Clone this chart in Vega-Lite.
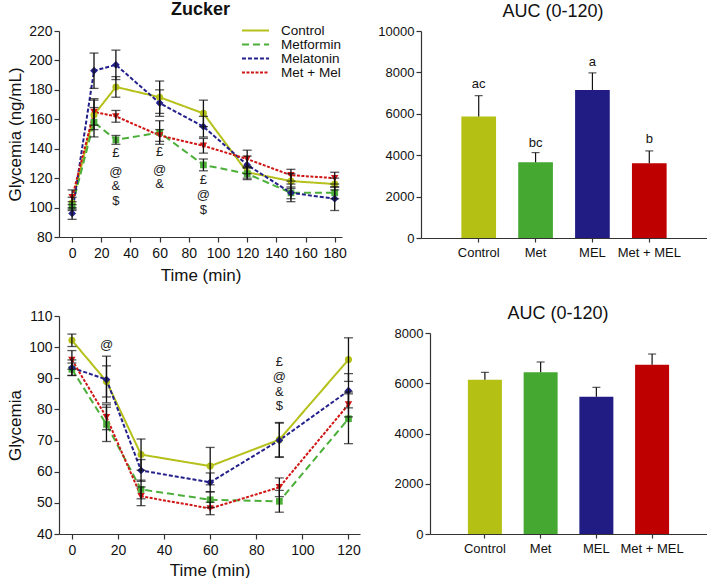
{
  "$schema": "https://vega.github.io/schema/vega-lite/v6.json",
  "background": "white",
  "padding": {"left": 6, "top": 1, "right": 0, "bottom": 0},
  "config": {
    "font": "Liberation Sans",
    "view": {"stroke": null},
    "axis": {"grid": false, "labelOverlap": false, "domainColor": "#333", "tickColor": "#333", "labelColor": "#111", "titleColor": "#111", "labelFontSize": 14, "titleFontSize": 17, "titleFontWeight": "normal", "labelFont": "Liberation Sans", "titleFont": "Liberation Sans", "tickSize": 5, "domainWidth": 1.2, "tickWidth": 1.2},
    "title": {"font": "Liberation Sans", "fontSize": 18, "color": "#111", "fontWeight": "normal", "offset": 0},
    "legend": {"labelFont": "Liberation Sans"}
  },
  "datasets": {
    "zt": [
      {"t": 0, "group": "Control", "y": 103, "lo": 99, "hi": 107},
      {"t": 15, "group": "Control", "y": 163, "lo": 153, "hi": 173},
      {"t": 30, "group": "Control", "y": 182, "lo": 175, "hi": 189},
      {"t": 60, "group": "Control", "y": 175, "lo": 164, "hi": 186},
      {"t": 90, "group": "Control", "y": 164, "lo": 155, "hi": 173},
      {"t": 120, "group": "Control", "y": 124, "lo": 120, "hi": 128},
      {"t": 150, "group": "Control", "y": 118, "lo": 113, "hi": 123},
      {"t": 180, "group": "Control", "y": 116, "lo": 112, "hi": 120},
      {"t": 0, "group": "Metformin", "y": 101, "lo": 98, "hi": 104},
      {"t": 15, "group": "Metformin", "y": 158, "lo": 148, "hi": 168},
      {"t": 30, "group": "Metformin", "y": 146, "lo": 143, "hi": 149},
      {"t": 60, "group": "Metformin", "y": 151, "lo": 143, "hi": 159},
      {"t": 90, "group": "Metformin", "y": 129, "lo": 125, "hi": 133},
      {"t": 120, "group": "Metformin", "y": 123, "lo": 119, "hi": 127},
      {"t": 150, "group": "Metformin", "y": 110, "lo": 106, "hi": 114},
      {"t": 180, "group": "Metformin", "y": 110, "lo": 106, "hi": 114},
      {"t": 0, "group": "Melatonin", "y": 96, "lo": 92, "hi": 100},
      {"t": 15, "group": "Melatonin", "y": 193, "lo": 181, "hi": 205},
      {"t": 30, "group": "Melatonin", "y": 197, "lo": 187, "hi": 207},
      {"t": 60, "group": "Melatonin", "y": 171, "lo": 162, "hi": 180},
      {"t": 90, "group": "Melatonin", "y": 155, "lo": 148, "hi": 162},
      {"t": 120, "group": "Melatonin", "y": 129, "lo": 123, "hi": 135},
      {"t": 150, "group": "Melatonin", "y": 110, "lo": 104, "hi": 116},
      {"t": 180, "group": "Melatonin", "y": 106, "lo": 98, "hi": 114},
      {"t": 0, "group": "Met + Mel", "y": 107, "lo": 102, "hi": 112},
      {"t": 15, "group": "Met + Mel", "y": 165, "lo": 156, "hi": 174},
      {"t": 30, "group": "Met + Mel", "y": 162, "lo": 158, "hi": 166},
      {"t": 60, "group": "Met + Mel", "y": 149, "lo": 145, "hi": 153},
      {"t": 90, "group": "Met + Mel", "y": 142, "lo": 137, "hi": 147},
      {"t": 120, "group": "Met + Mel", "y": 133, "lo": 127, "hi": 139},
      {"t": 150, "group": "Met + Mel", "y": 122, "lo": 118, "hi": 126},
      {"t": 180, "group": "Met + Mel", "y": 120, "lo": 116, "hi": 124}
    ],
    "ztann": [
      {"t": 30, "y": 137, "label": "£"},
      {"t": 30, "y": 124.5, "label": "@"},
      {"t": 30, "y": 114.8, "label": "&"},
      {"t": 30, "y": 104.8, "label": "$"},
      {"t": 60, "y": 138, "label": "£"},
      {"t": 60, "y": 125.5, "label": "@"},
      {"t": 60, "y": 116, "label": "&"},
      {"t": 90, "y": 118.8, "label": "£"},
      {"t": 90, "y": 108.5, "label": "@"},
      {"t": 90, "y": 98.3, "label": "$"}
    ],
    "bt": [
      {"t": 0, "group": "Control", "y": 102.2, "lo": 100.2, "hi": 104.2},
      {"t": 15, "group": "Control", "y": 89, "lo": 84, "hi": 94},
      {"t": 30, "group": "Control", "y": 65.5, "lo": 60.5, "hi": 70.5},
      {"t": 60, "group": "Control", "y": 61.8, "lo": 55.8, "hi": 67.8},
      {"t": 90, "group": "Control", "y": 70.3, "lo": 64.8, "hi": 75.8},
      {"t": 120, "group": "Control", "y": 96, "lo": 89, "hi": 103},
      {"t": 0, "group": "Metformin", "y": 92.9, "lo": 90.9, "hi": 94.9},
      {"t": 15, "group": "Metformin", "y": 75.2, "lo": 69.7, "hi": 80.7},
      {"t": 30, "group": "Metformin", "y": 54.3, "lo": 51.3, "hi": 57.3},
      {"t": 60, "group": "Metformin", "y": 51, "lo": 48.5, "hi": 53.5},
      {"t": 90, "group": "Metformin", "y": 50.5, "lo": 47, "hi": 54},
      {"t": 120, "group": "Metformin", "y": 77, "lo": 69, "hi": 85},
      {"t": 0, "group": "Melatonin", "y": 93.4, "lo": 90.9, "hi": 95.9},
      {"t": 15, "group": "Melatonin", "y": 89.6, "lo": 82.1, "hi": 97.1},
      {"t": 30, "group": "Melatonin", "y": 60.4, "lo": 56.9, "hi": 63.9},
      {"t": 60, "group": "Melatonin", "y": 56.6, "lo": 53.6, "hi": 59.6},
      {"t": 90, "group": "Melatonin", "y": 70.1, "lo": 64.6, "hi": 75.6},
      {"t": 120, "group": "Melatonin", "y": 86, "lo": 80.5, "hi": 91.5},
      {"t": 0, "group": "Met + Mel", "y": 95.9, "lo": 92.9, "hi": 98.9},
      {"t": 15, "group": "Met + Mel", "y": 77.5, "lo": 73.5, "hi": 81.5},
      {"t": 30, "group": "Met + Mel", "y": 52.1, "lo": 49.1, "hi": 55.1},
      {"t": 60, "group": "Met + Mel", "y": 48.2, "lo": 46.2, "hi": 50.2},
      {"t": 90, "group": "Met + Mel", "y": 55, "lo": 52, "hi": 58},
      {"t": 120, "group": "Met + Mel", "y": 81.6, "lo": 77.6, "hi": 85.6}
    ],
    "btann": [
      {"t": 15, "y": 100.6, "label": "@"},
      {"t": 90, "y": 95.3, "label": "£"},
      {"t": 90, "y": 90.4, "label": "@"},
      {"t": 90, "y": 85.7, "label": "&"},
      {"t": 90, "y": 81.1, "label": "$"}
    ],
    "auc1": [
      {"grp": "Control", "v": 5874, "hi": 6877, "lab": "ac", "ly": 7443},
      {"grp": "Met", "v": 3657, "hi": 4126, "lab": "bc", "ly": 4579},
      {"grp": "MEL", "v": 7152, "hi": 7977, "lab": "a", "ly": 8511},
      {"grp": "Met + MEL", "v": 3608, "hi": 4207, "lab": "b", "ly": 4773}
    ],
    "auc2": [
      {"grp": "Control", "v": 6143, "hi": 6434},
      {"grp": "Met", "v": 6434, "hi": 6846},
      {"grp": "MEL", "v": 5466, "hi": 5837},
      {"grp": "Met + MEL", "v": 6740, "hi": 7164}
    ]
  },
  "resolve": {"scale": {"color": "independent", "strokeDash": "independent"}},
  "spacing": 16,
  "hconcat": [
    {
      "spacing": 26,
      "resolve": {"scale": {"color": "independent", "strokeDash": "independent"}},
      "vconcat": [
        {
          "title": {"text": "Zucker", "fontWeight": "bold"},
          "width": 283, "height": 206,
          "data": {"name": "zt"},
          "layer": [
            {
              "mark": {"type": "line", "strokeWidth": 2},
              "encoding": {
                "x": {"field": "t", "type": "quantitative", "scale": {"domain": [-9, 185], "nice": false, "zero": false}, "axis": {"values": [0, 20, 40, 60, 80, 100, 120, 140, 160, 180], "title": "Time (min)", "labelPadding": 4, "titlePadding": 7}},
                "y": {"field": "y", "type": "quantitative", "scale": {"domain": [80, 220], "nice": false, "zero": false}, "axis": {"values": [80, 100, 120, 140, 160, 180, 200, 220], "title": "Glycemia (ng/mL)"}},
                "color": {"field": "group", "type": "nominal", "scale": {"domain": ["Control", "Metformin", "Melatonin", "Met + Mel"], "range": ["#b5c11a", "#4caf3a", "#23208a", "#d01515"]}, "legend": {"title": null, "orient": "none", "legendX": 189, "legendY": -8, "padding": 0, "symbolType": "M-2.08,0H2.08", "symbolSize": 169, "symbolStrokeWidth": 2, "labelFontSize": 13.5, "labelColor": "#111", "rowPadding": -2.5, "labelOffset": 18}},
                "strokeDash": {"field": "group", "type": "nominal", "scale": {"domain": ["Control", "Metformin", "Melatonin", "Met + Mel"], "range": [[1, 0], [7, 4], [4, 2], [3, 1.5]]}, "legend": {"title": null, "orient": "none", "legendX": 189, "legendY": -8, "padding": 0, "symbolType": "M-2.08,0H2.08", "symbolSize": 169, "symbolStrokeWidth": 2, "labelFontSize": 13.5, "labelColor": "#111", "rowPadding": -2.5, "labelOffset": 18}}
              }
            },
            {
              "transform": [{"filter": "datum.group === 'Control'"}],
              "mark": {"type": "point", "shape": "circle", "filled": true, "size": 50, "opacity": 1, "color": "#b5c11a"},
              "encoding": {
                "x": {"field": "t", "type": "quantitative", "axis": {"values": [0, 20, 40, 60, 80, 100, 120, 140, 160, 180], "title": "Time (min)", "labelPadding": 4, "titlePadding": 7}},
                "y": {"field": "y", "type": "quantitative", "axis": {"values": [80, 100, 120, 140, 160, 180, 200, 220], "title": "Glycemia (ng/mL)"}}
              }
            },
            {
              "transform": [{"filter": "datum.group === 'Metformin'"}],
              "mark": {"type": "point", "shape": "square", "filled": true, "size": 45, "opacity": 1, "color": "#4caf3a"},
              "encoding": {
                "x": {"field": "t", "type": "quantitative", "axis": {"values": [0, 20, 40, 60, 80, 100, 120, 140, 160, 180], "title": "Time (min)", "labelPadding": 4, "titlePadding": 7}},
                "y": {"field": "y", "type": "quantitative", "axis": {"values": [80, 100, 120, 140, 160, 180, 200, 220], "title": "Glycemia (ng/mL)"}}
              }
            },
            {
              "transform": [{"filter": "datum.group === 'Melatonin'"}],
              "mark": {"type": "point", "shape": "diamond", "filled": true, "size": 60, "opacity": 1, "color": "#23208a"},
              "encoding": {
                "x": {"field": "t", "type": "quantitative", "axis": {"values": [0, 20, 40, 60, 80, 100, 120, 140, 160, 180], "title": "Time (min)", "labelPadding": 4, "titlePadding": 7}},
                "y": {"field": "y", "type": "quantitative", "axis": {"values": [80, 100, 120, 140, 160, 180, 200, 220], "title": "Glycemia (ng/mL)"}}
              }
            },
            {
              "transform": [{"filter": "datum.group === 'Met + Mel'"}],
              "mark": {"type": "point", "shape": "triangle-down", "filled": true, "size": 55, "opacity": 1, "color": "#d01515"},
              "encoding": {
                "x": {"field": "t", "type": "quantitative", "axis": {"values": [0, 20, 40, 60, 80, 100, 120, 140, 160, 180], "title": "Time (min)", "labelPadding": 4, "titlePadding": 7}},
                "y": {"field": "y", "type": "quantitative", "axis": {"values": [80, 100, 120, 140, 160, 180, 200, 220], "title": "Glycemia (ng/mL)"}}
              }
            },
            {
              "mark": {"type": "rule", "color": "#111", "strokeWidth": 1.3},
              "encoding": {
                "x": {"field": "t", "type": "quantitative", "axis": {"values": [0, 20, 40, 60, 80, 100, 120, 140, 160, 180], "title": "Time (min)", "labelPadding": 4, "titlePadding": 7}},
                "y": {"field": "lo", "type": "quantitative", "axis": {"values": [80, 100, 120, 140, 160, 180, 200, 220], "title": "Glycemia (ng/mL)"}},
                "y2": {"field": "hi"}
              }
            },
            {
              "mark": {"type": "tick", "orient": "horizontal", "color": "#111", "size": 9, "thickness": 1.3},
              "encoding": {
                "x": {"field": "t", "type": "quantitative", "axis": {"values": [0, 20, 40, 60, 80, 100, 120, 140, 160, 180], "title": "Time (min)", "labelPadding": 4, "titlePadding": 7}},
                "y": {"field": "lo", "type": "quantitative", "axis": {"values": [80, 100, 120, 140, 160, 180, 200, 220], "title": "Glycemia (ng/mL)"}}
              }
            },
            {
              "mark": {"type": "tick", "orient": "horizontal", "color": "#111", "size": 9, "thickness": 1.3},
              "encoding": {
                "x": {"field": "t", "type": "quantitative", "axis": {"values": [0, 20, 40, 60, 80, 100, 120, 140, 160, 180], "title": "Time (min)", "labelPadding": 4, "titlePadding": 7}},
                "y": {"field": "hi", "type": "quantitative", "axis": {"values": [80, 100, 120, 140, 160, 180, 200, 220], "title": "Glycemia (ng/mL)"}}
              }
            },
            {
              "data": {"name": "ztann"},
              "mark": {"type": "text", "fontSize": 13, "color": "#222", "baseline": "middle"},
              "encoding": {
                "x": {"field": "t", "type": "quantitative", "axis": {"values": [0, 20, 40, 60, 80, 100, 120, 140, 160, 180], "title": "Time (min)", "labelPadding": 4, "titlePadding": 7}},
                "y": {"field": "y", "type": "quantitative", "axis": {"values": [80, 100, 120, 140, 160, 180, 200, 220], "title": "Glycemia (ng/mL)"}},
                "text": {"field": "label"}
              }
            }
          ]
        },
        {
          "width": 301, "height": 218,
          "data": {"name": "bt"},
          "layer": [
            {
              "mark": {"type": "line", "strokeWidth": 2},
              "encoding": {
                "x": {"field": "t", "type": "quantitative", "scale": {"domain": [-5.6, 125], "nice": false, "zero": false}, "axis": {"values": [0, 20, 40, 60, 80, 100, 120], "title": "Time (min)", "labelPadding": 4, "titlePadding": 5}},
                "y": {"field": "y", "type": "quantitative", "scale": {"domain": [40, 110], "nice": false, "zero": false}, "axis": {"values": [40, 50, 60, 70, 80, 90, 100, 110], "title": "Glycemia"}},
                "color": {"field": "group", "type": "nominal", "scale": {"domain": ["Control", "Metformin", "Melatonin", "Met + Mel"], "range": ["#b5c11a", "#4caf3a", "#23208a", "#d01515"]}, "legend": null},
                "strokeDash": {"field": "group", "type": "nominal", "scale": {"domain": ["Control", "Metformin", "Melatonin", "Met + Mel"], "range": [[1, 0], [7, 4], [4, 2], [3, 1.5]]}, "legend": null}
              }
            },
            {
              "transform": [{"filter": "datum.group === 'Control'"}],
              "mark": {"type": "point", "shape": "circle", "filled": true, "size": 50, "opacity": 1, "color": "#b5c11a"},
              "encoding": {
                "x": {"field": "t", "type": "quantitative", "axis": {"values": [0, 20, 40, 60, 80, 100, 120], "title": "Time (min)", "labelPadding": 4, "titlePadding": 5}},
                "y": {"field": "y", "type": "quantitative", "axis": {"values": [40, 50, 60, 70, 80, 90, 100, 110], "title": "Glycemia"}}
              }
            },
            {
              "transform": [{"filter": "datum.group === 'Metformin'"}],
              "mark": {"type": "point", "shape": "square", "filled": true, "size": 45, "opacity": 1, "color": "#4caf3a"},
              "encoding": {
                "x": {"field": "t", "type": "quantitative", "axis": {"values": [0, 20, 40, 60, 80, 100, 120], "title": "Time (min)", "labelPadding": 4, "titlePadding": 5}},
                "y": {"field": "y", "type": "quantitative", "axis": {"values": [40, 50, 60, 70, 80, 90, 100, 110], "title": "Glycemia"}}
              }
            },
            {
              "transform": [{"filter": "datum.group === 'Melatonin'"}],
              "mark": {"type": "point", "shape": "diamond", "filled": true, "size": 60, "opacity": 1, "color": "#23208a"},
              "encoding": {
                "x": {"field": "t", "type": "quantitative", "axis": {"values": [0, 20, 40, 60, 80, 100, 120], "title": "Time (min)", "labelPadding": 4, "titlePadding": 5}},
                "y": {"field": "y", "type": "quantitative", "axis": {"values": [40, 50, 60, 70, 80, 90, 100, 110], "title": "Glycemia"}}
              }
            },
            {
              "transform": [{"filter": "datum.group === 'Met + Mel'"}],
              "mark": {"type": "point", "shape": "triangle-down", "filled": true, "size": 55, "opacity": 1, "color": "#d01515"},
              "encoding": {
                "x": {"field": "t", "type": "quantitative", "axis": {"values": [0, 20, 40, 60, 80, 100, 120], "title": "Time (min)", "labelPadding": 4, "titlePadding": 5}},
                "y": {"field": "y", "type": "quantitative", "axis": {"values": [40, 50, 60, 70, 80, 90, 100, 110], "title": "Glycemia"}}
              }
            },
            {
              "mark": {"type": "rule", "color": "#111", "strokeWidth": 1.3},
              "encoding": {
                "x": {"field": "t", "type": "quantitative", "axis": {"values": [0, 20, 40, 60, 80, 100, 120], "title": "Time (min)", "labelPadding": 4, "titlePadding": 5}},
                "y": {"field": "lo", "type": "quantitative", "axis": {"values": [40, 50, 60, 70, 80, 90, 100, 110], "title": "Glycemia"}},
                "y2": {"field": "hi"}
              }
            },
            {
              "mark": {"type": "tick", "orient": "horizontal", "color": "#111", "size": 9, "thickness": 1.3},
              "encoding": {
                "x": {"field": "t", "type": "quantitative", "axis": {"values": [0, 20, 40, 60, 80, 100, 120], "title": "Time (min)", "labelPadding": 4, "titlePadding": 5}},
                "y": {"field": "lo", "type": "quantitative", "axis": {"values": [40, 50, 60, 70, 80, 90, 100, 110], "title": "Glycemia"}}
              }
            },
            {
              "mark": {"type": "tick", "orient": "horizontal", "color": "#111", "size": 9, "thickness": 1.3},
              "encoding": {
                "x": {"field": "t", "type": "quantitative", "axis": {"values": [0, 20, 40, 60, 80, 100, 120], "title": "Time (min)", "labelPadding": 4, "titlePadding": 5}},
                "y": {"field": "hi", "type": "quantitative", "axis": {"values": [40, 50, 60, 70, 80, 90, 100, 110], "title": "Glycemia"}}
              }
            },
            {
              "data": {"name": "btann"},
              "mark": {"type": "text", "fontSize": 13, "color": "#222", "baseline": "middle"},
              "encoding": {
                "x": {"field": "t", "type": "quantitative", "axis": {"values": [0, 20, 40, 60, 80, 100, 120], "title": "Time (min)", "labelPadding": 4, "titlePadding": 5}},
                "y": {"field": "y", "type": "quantitative", "axis": {"values": [40, 50, 60, 70, 80, 90, 100, 110], "title": "Glycemia"}},
                "text": {"field": "label"}
              }
            }
          ]
        }
      ]
    },
    {
      "spacing": 46,
      "resolve": {"scale": {"color": "independent"}},
      "vconcat": [
        {
          "title": {"text": "AUC (0-120)", "dx": -11},
          "width": 286, "height": 207,
          "data": {"name": "auc1"},
          "layer": [
            {
              "mark": {"type": "bar"},
              "encoding": {
                "x": {"field": "grp", "type": "nominal", "sort": null, "scale": {"paddingInner": 0.39, "paddingOuter": 0.71}, "axis": {"title": null, "labelAngle": 0, "labelFontSize": 13, "tickSize": 4, "labelPadding": 4}},
                "y": {"field": "v", "type": "quantitative", "scale": {"domain": [0, 10000], "nice": false}, "axis": {"values": [0, 2000, 4000, 6000, 8000, 10000], "format": "d", "title": null, "labelFontSize": 13}},
                "color": {"field": "grp", "type": "nominal", "scale": {"domain": ["Control", "Met", "MEL", "Met + MEL"], "range": ["#b4c013", "#45a830", "#211c83", "#bf0000"]}, "legend": null}
              }
            },
            {
              "mark": {"type": "rule", "color": "#111", "strokeWidth": 1.2},
              "encoding": {"x": {"field": "grp", "type": "nominal", "sort": null}, "y": {"field": "v", "type": "quantitative"}, "y2": {"field": "hi"}}
            },
            {
              "mark": {"type": "tick", "orient": "horizontal", "color": "#111", "size": 8, "thickness": 1.2},
              "encoding": {"x": {"field": "grp", "type": "nominal", "sort": null}, "y": {"field": "hi", "type": "quantitative"}}
            },
            {
              "mark": {"type": "text", "fontSize": 13, "color": "#111", "baseline": "middle"},
              "encoding": {"x": {"field": "grp", "type": "nominal", "sort": null}, "y": {"field": "ly", "type": "quantitative"}, "text": {"field": "lab"}}
            }
          ]
        },
        {
          "title": {"text": "AUC (0-120)", "dx": -6},
          "width": 286, "height": 201,
          "data": {"name": "auc2"},
          "layer": [
            {
              "mark": {"type": "bar"},
              "encoding": {
                "x": {"field": "grp", "type": "nominal", "sort": null, "scale": {"paddingInner": 0.39, "paddingOuter": 0.68, "rangeMin": 9}, "axis": {"title": null, "labelAngle": 0, "labelFontSize": 13, "tickSize": 4, "labelPadding": 4}},
                "y": {"field": "v", "type": "quantitative", "scale": {"domain": [0, 8000], "nice": false}, "axis": {"values": [0, 2000, 4000, 6000, 8000], "format": "d", "title": null, "labelFontSize": 13, "offset": -9}},
                "color": {"field": "grp", "type": "nominal", "scale": {"domain": ["Control", "Met", "MEL", "Met + MEL"], "range": ["#b4c013", "#45a830", "#211c83", "#bf0000"]}, "legend": null}
              }
            },
            {
              "mark": {"type": "rule", "color": "#111", "strokeWidth": 1.2},
              "encoding": {"x": {"field": "grp", "type": "nominal", "sort": null}, "y": {"field": "v", "type": "quantitative"}, "y2": {"field": "hi"}}
            },
            {
              "mark": {"type": "tick", "orient": "horizontal", "color": "#111", "size": 8, "thickness": 1.2},
              "encoding": {"x": {"field": "grp", "type": "nominal", "sort": null}, "y": {"field": "hi", "type": "quantitative"}}
            }
          ]
        }
      ]
    }
  ]
}
